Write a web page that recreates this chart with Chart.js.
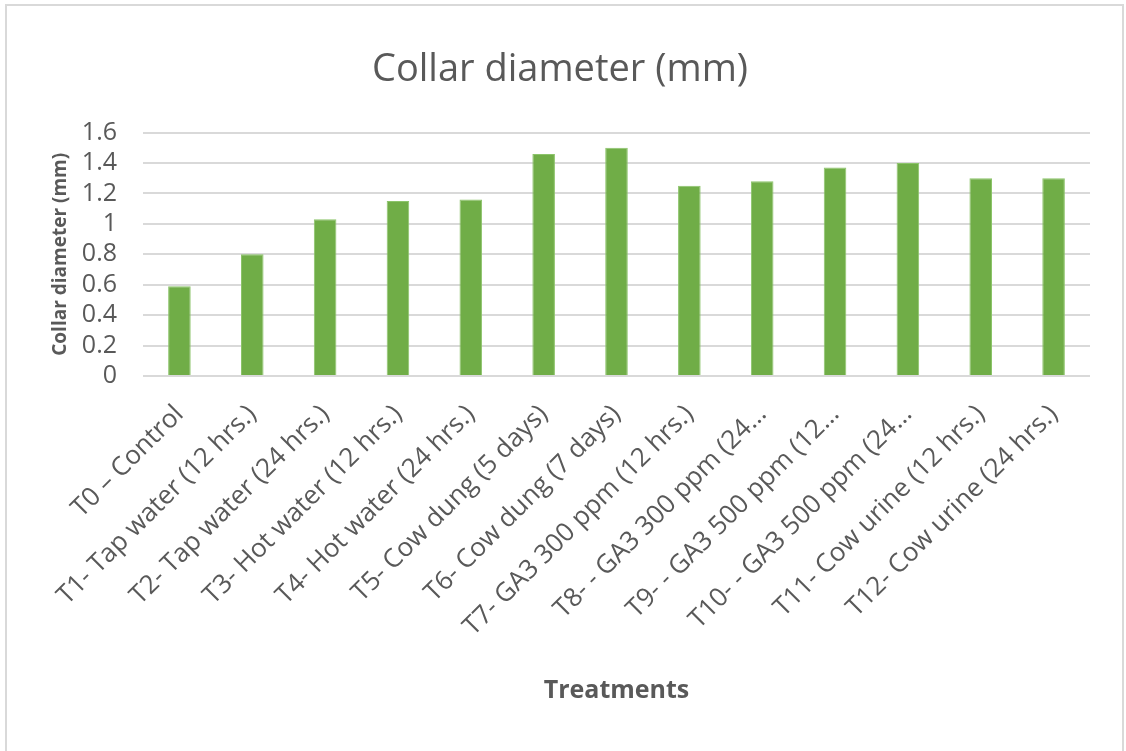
<!DOCTYPE html>
<html>
<head>
<meta charset="utf-8">
<script src="https://cdn.jsdelivr.net/npm/chart.js@4"></script>
<style>
  html, body { margin: 0; padding: 0; background: #fff; }
  #wrap { position: relative; width: 1126px; height: 751px; }
  #frame { position: absolute; left: 5px; top: 4px; width: 1115px; height: 760px; border: 2px solid #d9d9d9; pointer-events: none; }
</style>
</head>
<body>
<div id="wrap">
  <canvas id="myChart" width="1126" height="751"></canvas>
  <div id="frame"></div>
</div>
<script>
// categories as printed on the axis (long ones are cut off in the original)
const treatments = [
  "T0 – Control",
  "T1- Tap water (12 hrs.)",
  "T2- Tap water (24 hrs.)",
  "T3- Hot water (12 hrs.)",
  "T4- Hot water (24 hrs.)",
  "T5- Cow dung (5 days)",
  "T6- Cow dung (7 days)",
  "T7- GA3 300 ppm (12 hrs.)",
  "T8- - GA3 300 ppm (24…",
  "T9- - GA3 500 ppm (12…",
  "T10- - GA3 500 ppm (24…",
  "T11- Cow urine (12 hrs.)",
  "T12- Cow urine (24 hrs.)"
];
const collarDiameter = [0.59, 0.80, 1.03, 1.15, 1.16, 1.46, 1.50, 1.25, 1.28, 1.37, 1.40, 1.30, 1.30];

const textColor = "#595959";
const font = "'Open Sans', 'Liberation Sans', sans-serif";

window.addEventListener("DOMContentLoaded", function() {
    const ctx = document.getElementById('myChart');
    new Chart(ctx, {
      type: 'bar',
      data: {
        labels: treatments,
        datasets: [{
          label: 'Collar diameter (mm)',
          data: collarDiameter,
          backgroundColor: '#70ad47',
          borderColor: '#8cc46a',
          borderWidth: 1,
          categoryPercentage: 1,
          barPercentage: 0.31
        }]
      },
      options: {
        responsive: false,
        animation: false,
        layout: { padding: { left: 30, right: 36, top: 8, bottom: 40 } },
        plugins: {
          legend: { display: false },
          tooltip: { enabled: false },
          title: {
            display: true,
            text: 'Collar diameter (mm)',
            color: textColor,
            font: { family: font, size: 38, weight: 'normal' },
            padding: { top: 39, bottom: 40 }
          }
        },
        scales: {
          x: {
            afterFit: function(scale) { scale.height = 335; },
            grid: { display: false },
            border: { display: false },
            ticks: {
              color: textColor,
              font: { family: font, size: 26 },
              minRotation: 45,
              maxRotation: 45,
              autoSkip: false,
              padding: 15
            },
            title: {
              display: true,
              text: 'Treatments',
              color: textColor,
              font: { family: font, size: 25, weight: 'bold' },
              padding: { top: 4, bottom: 5 }
            }
          },
          y: {
            afterFit: function(scale) { scale.width = 113; },
            min: 0,
            max: 1.6,
            grid: { color: '#d9d9d9', lineWidth: 2, drawTicks: false },
            border: { display: false },
            ticks: {
              stepSize: 0.2,
              autoSkip: false,
              color: textColor,
              font: { family: font, size: 25 },
              padding: 26,
              callback: function(v) { return String(+v.toFixed(1)); }
            },
            title: {
              display: true,
              text: 'Collar diameter (mm)',
              color: textColor,
              font: { family: font, size: 19, weight: 'bold' },
              padding: { top: 19, bottom: 4 }
            }
          }
        }
      }
    });
});
</script>
</body>
</html>
